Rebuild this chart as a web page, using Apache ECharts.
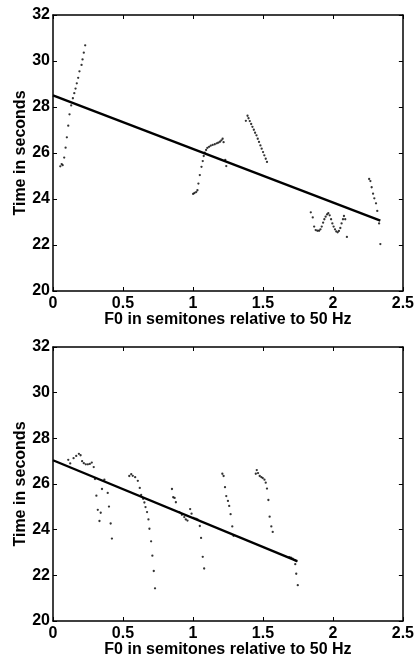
<!DOCTYPE html>
<html>
<head>
<meta charset="utf-8">
<script src="https://cdn.jsdelivr.net/npm/echarts@6/dist/echarts.min.js"></script>
<style>
html,body{margin:0;padding:0;background:#fff;}
#c{width:417px;height:659px;}
</style>
</head>
<body>
<div id="c"></div>
<script>
// ---- data ----
var xTicks = [0, 0.5, 1, 1.5, 2, 2.5];
var yTicks = [20, 22, 24, 26, 28, 30, 32];
var xTitle = 'F0 in semitones relative to 50 Hz';
var yTitle = 'Time in seconds';

var topF0 = [0.052,0.062,0.069,0.080,0.090,0.099,0.109,0.118,0.130,0.142,0.152,0.161,0.170,0.180,0.189,0.204,0.211,0.220,0.230,
  1.001,1.011,1.023,1.032,1.039,1.049,1.061,1.070,1.077,1.084,1.094,1.103,1.115,1.127,1.141,1.156,1.170,1.181,1.193,1.203,1.212,1.219,1.231,1.238,
  1.378,1.390,1.397,1.406,1.416,1.425,1.435,1.444,1.454,1.463,1.472,1.482,1.491,1.501,1.510,1.520,1.529,
  1.842,1.856,1.866,1.877,1.889,1.901,1.911,1.920,1.930,1.939,1.948,1.958,1.967,1.977,1.987,1.996,2.005,2.015,2.024,2.034,2.043,2.053,2.062,2.072,2.079,2.088,2.100,
  2.259,2.268,2.277,2.287,2.296,2.308,2.317,2.330,2.339];
var topTime = [25.42,25.52,25.47,25.80,26.23,26.68,27.19,27.68,28.07,28.38,28.60,28.80,29.03,29.27,29.55,29.83,30.07,30.36,30.68,
  24.22,24.26,24.30,24.38,24.67,25.04,25.40,25.65,25.87,26.01,26.13,26.22,26.27,26.32,26.35,26.38,26.42,26.45,26.49,26.55,26.62,26.47,25.70,25.43,
  27.40,27.62,27.51,27.39,27.26,27.14,27.01,26.88,26.77,26.62,26.48,26.33,26.19,26.04,25.90,25.75,25.61,
  23.42,23.20,22.80,22.65,22.62,22.62,22.68,22.80,22.97,23.12,23.23,23.33,23.38,23.29,23.12,22.94,22.80,22.68,22.59,22.55,22.61,22.74,22.94,23.12,23.26,23.12,22.35,
  24.87,24.78,24.51,24.23,24.03,23.81,23.48,22.94,22.04];
var topFitF0 = [0, 2.339];
var topFitTime = [28.51, 23.06];

var bottomF0 = [0.109,0.123,0.147,0.166,0.185,0.197,0.208,0.220,0.234,0.249,0.263,0.277,0.291,0.300,0.310,0.320,0.332,0.341,0.350,0.367,0.391,0.400,0.412,0.421,
  0.545,0.559,0.570,0.587,0.606,0.620,0.630,0.644,0.653,0.661,0.672,0.682,0.689,0.701,0.710,0.720,0.729,
  0.850,0.859,0.869,0.878,0.902,0.921,0.938,0.949,0.961,0.980,0.990,1.004,1.020,1.032,1.049,1.058,1.070,1.080,
  1.210,1.219,1.229,1.238,1.250,1.259,1.269,1.281,1.290,
  1.449,1.456,1.465,1.477,1.489,1.499,1.511,1.520,1.529,1.539,1.548,1.560,1.570,
  1.688,1.700,1.712,1.726,1.740,1.731,1.738,1.749];
var bottomTime = [27.06,26.90,27.13,27.23,27.32,27.26,27.00,26.91,26.86,26.86,26.88,26.94,26.74,26.22,25.49,24.87,24.38,24.74,25.78,26.19,25.61,25.01,24.27,23.61,
  26.35,26.43,26.36,26.30,26.14,25.83,25.52,25.35,25.19,24.99,24.77,24.45,24.04,23.49,22.86,22.19,21.43,
  25.78,25.42,25.39,25.20,24.77,24.65,24.55,24.45,24.40,24.90,24.70,24.52,24.48,24.45,24.16,23.64,22.81,22.30,
  26.45,26.35,25.86,25.47,25.26,25.04,24.68,24.14,23.73,
  26.45,26.61,26.48,26.35,26.30,26.26,26.19,26.06,25.80,25.30,24.57,24.14,23.90,
  22.80,22.77,22.73,22.67,22.62,22.49,22.07,21.57];
var bottomFitF0 = [0, 1.745];
var bottomFitTime = [27.04, 22.62];

// ---- chart ----
function pairs(xs, ys){ return xs.map(function(x,i){ return [x, ys[i]]; }); }
var FONT = '"Liberation Sans", Arial, Helvetica, sans-serif';
var lblStyle = {color:'#000', fontWeight:'bold', fontSize:16, fontFamily:FONT};
var xMin = xTicks[0], xMax = xTicks[xTicks.length-1], xInt = xTicks[1]-xTicks[0];
var yMin = yTicks[0], yMax = yTicks[yTicks.length-1], yInt = yTicks[1]-yTicks[0];

function xAxisDef(gi, pos, labels){
  return {
    gridIndex: gi, type:'value', position: pos, min:xMin, max:xMax, interval:xInt,
    axisLine:{show:true, onZero:false, lineStyle:{color:'#000', width:1.5}},
    axisTick:{show:true, inside:true, length:4, lineStyle:{color:'#000', width:1}},
    splitLine:{show:false},
    axisLabel: labels ? Object.assign({show:true, margin:5, formatter:function(v){return String(+v.toFixed(2));}}, lblStyle) : {show:false},
    name: labels ? xTitle : '', nameLocation:'middle', nameGap: 21, nameMoveOverlap:false,
    nameTextStyle: lblStyle
  };
}
function yAxisDef(gi, pos, labels){
  return {
    gridIndex: gi, type:'value', position: pos, min:yMin, max:yMax, interval:yInt,
    axisLine:{show:true, onZero:false, lineStyle:{color:'#000', width:1.5}},
    axisTick:{show:true, inside:true, length:4, lineStyle:{color:'#000', width:1}},
    splitLine:{show:false},
    axisLabel: labels ? Object.assign({show:true, margin:3}, lblStyle) : {show:false},
    name: labels ? yTitle : '', nameLocation:'middle', nameGap: 24, nameRotate: 90, nameMoveOverlap:false,
    nameTextStyle: lblStyle
  };
}

var chart = echarts.init(document.getElementById('c'), null, {renderer:'canvas'});
chart.setOption({
  animation:false,
  backgroundColor:'#fff',
  grid:[
    {left:53, top:15, width:352, height:276},
    {left:53, top:347, width:352, height:276}
  ],
  xAxis:[ xAxisDef(0,'bottom',true), xAxisDef(1,'bottom',true), xAxisDef(0,'top',false), xAxisDef(1,'top',false) ],
  yAxis:[ yAxisDef(0,'left',true), yAxisDef(1,'left',true), yAxisDef(0,'right',false), yAxisDef(1,'right',false) ],
  series:[
    {type:'scatter', xAxisIndex:0, yAxisIndex:0, data:pairs(topF0, topTime), symbol:'circle', symbolSize:2.3, itemStyle:{color:'#000'}},
    {type:'line', xAxisIndex:0, yAxisIndex:0, data:pairs(topFitF0, topFitTime), symbol:'none', lineStyle:{color:'#000', width:2.4}},
    {type:'scatter', xAxisIndex:1, yAxisIndex:1, data:pairs(bottomF0, bottomTime), symbol:'circle', symbolSize:2.3, itemStyle:{color:'#000'}},
    {type:'line', xAxisIndex:1, yAxisIndex:1, data:pairs(bottomFitF0, bottomFitTime), symbol:'none', lineStyle:{color:'#000', width:2.4}}
  ]
});
</script>
</body>
</html>
